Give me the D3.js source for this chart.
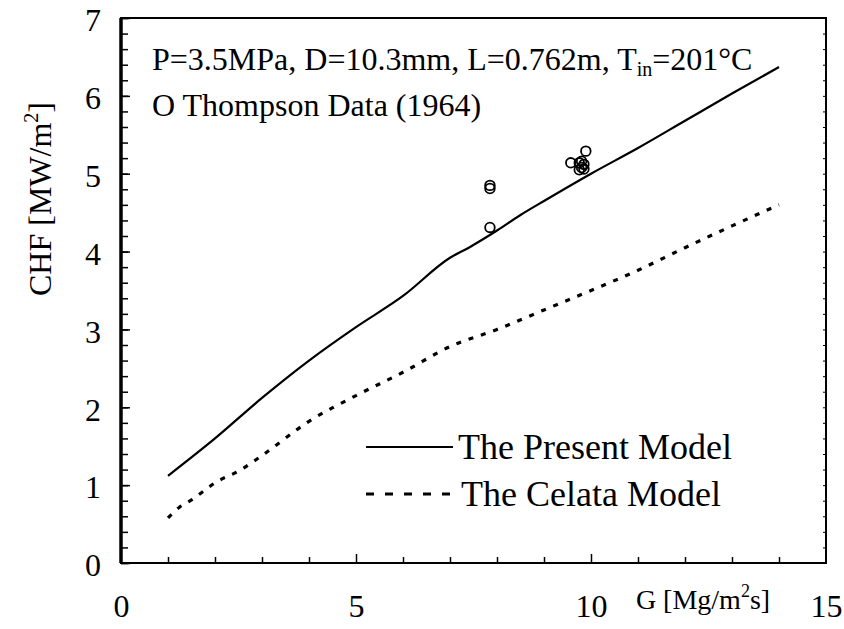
<!DOCTYPE html>
<html>
<head>
<meta charset="utf-8">
<script src="https://cdn.jsdelivr.net/npm/d3@7"></script>
<style>
  html, body { margin: 0; padding: 0; background: #fff; }
  svg { display: block; }
</style>
</head>
<body>
<svg id="chart" width="844" height="629" font-family="Liberation Serif, Times New Roman, serif"></svg>
<script>
// Mass flux G [Mg/m2s] and CHF [MW/m2] for the two model curves
const presentG   = [1, 2, 3, 4, 5, 6, 7, 7.4, 8, 8.5, 9, 10, 11, 12, 13, 14];
const presentCHF = [1.12, 1.6, 2.12, 2.6, 3.03, 3.43, 3.92, 4.05, 4.27, 4.47, 4.65, 5.0, 5.33, 5.68, 6.03, 6.37];

const celataG   = [1, 1.25, 1.5, 1.75, 2, 2.5, 3, 4, 5, 6, 7, 8, 9, 10, 11, 12, 13, 14];
const celataCHF = [0.58, 0.72, 0.81, 0.92, 1.03, 1.18, 1.38, 1.82, 2.15, 2.45, 2.78, 3.0, 3.25, 3.5, 3.76, 4.05, 4.33, 4.6];

// Thompson (1964) measurements
const dataG   = [7.85, 7.85, 7.85, 9.57, 9.89, 9.75, 9.8, 9.85, 9.75, 9.85, 9.8];
const dataCHF = [4.85, 4.81, 4.31, 5.14, 5.29, 5.14, 5.08, 5.12, 5.05, 5.06, 5.16];

const xTickLabels = [0, 5, 10, 15];
const yTickLabels = [0, 1, 2, 3, 4, 5, 6, 7];

const FONT = "Liberation Serif, Times New Roman, serif";
const svg = d3.select("#chart");
const plotL = 121, plotR = 826, plotT = 18, plotB = 563;

const x = d3.scaleLinear().domain([0, 15]).range([plotL, plotR]);
const y = d3.scaleLinear().domain([0, 7]).range([plotB, plotT]);

// Frame
svg.append("rect")
  .attr("x", plotL).attr("y", plotT)
  .attr("width", plotR - plotL).attr("height", plotB - plotT)
  .attr("fill", "none").attr("stroke", "#000").attr("stroke-width", 2);
svg.append("line")
  .attr("x1", plotL).attr("x2", plotL).attr("y1", plotT).attr("y2", plotB)
  .attr("stroke", "#000").attr("stroke-width", 3.5);

// Left axis: inward minor ticks every 0.2, labels at integers
const yMinor = d3.range(0, 7.001, 0.2).map(v => +v.toFixed(1));
const yAxisMinor = d3.axisLeft(y).tickValues(yMinor).tickSize(-7).tickFormat("");
svg.append("g").attr("transform", `translate(${plotL},0)`).call(yAxisMinor)
  .call(g => g.select(".domain").remove())
  .call(g => g.selectAll(".tick line").attr("stroke-width", 1.5));

// Right axis: short inward minor ticks
const yAxisRight = d3.axisRight(y).tickValues(yMinor).tickSize(-3).tickFormat("");
svg.append("g").attr("transform", `translate(${plotR},0)`).call(yAxisRight)
  .call(g => g.select(".domain").remove())
  .call(g => g.selectAll(".tick line").attr("stroke-width", 1));

const yAxis = d3.axisLeft(y).tickValues(yTickLabels).tickSize(-9).tickPadding(20)
  .tickFormat(d3.format("d"));
svg.append("g").attr("transform", `translate(${plotL},0)`).call(yAxis)
  .attr("font-family", FONT).attr("font-size", 32)
  .call(g => g.select(".domain").remove())
  .call(g => g.selectAll(".tick line").attr("stroke-width", 1.5))
  .call(g => g.selectAll(".tick text").attr("dy", "0.4em"));

// Bottom axis: inward ticks at every integer
const xMinor = d3.range(1, 15);
const xAxisMinor = d3.axisBottom(x).tickValues(xMinor)
  .tickSize(-6).tickFormat("");
svg.append("g").attr("transform", `translate(0,${plotB})`).call(xAxisMinor)
  .call(g => g.select(".domain").remove())
  .call(g => g.selectAll(".tick line")
    .attr("stroke-width", 1.5)
    .attr("y2", d => (d % 5 === 0 ? -9 : -6)));

const xAxis = d3.axisBottom(x).tickValues(xTickLabels).tickSize(0).tickPadding(31)
  .tickFormat(d3.format("d"));
svg.append("g").attr("transform", `translate(0,${plotB})`).call(xAxis)
  .attr("font-family", FONT).attr("font-size", 32)
  .call(g => g.select(".domain").remove());

// Axis titles
const xTitle = svg.append("text")
  .attr("x", 703).attr("y", 609)
  .attr("text-anchor", "middle").attr("font-size", 28).attr("font-family", FONT);
xTitle.append("tspan").text("G [Mg/m");
xTitle.append("tspan").attr("dy", -12).attr("font-size", 18).text("2");
xTitle.append("tspan").attr("dy", 12).text("s]");

const yTitle = svg.append("text")
  .attr("transform", "translate(51,199) rotate(-90)")
  .attr("text-anchor", "middle").attr("font-size", 32).attr("font-family", FONT);
yTitle.append("tspan").text("CHF [MW/m");
yTitle.append("tspan").attr("dy", -13).attr("font-size", 20).text("2");
yTitle.append("tspan").attr("dy", 13).text("]");

// Curves
const line = d3.line().x(d => x(d[0])).y(d => y(d[1])).curve(d3.curveMonotoneX);

svg.append("path")
  .datum(d3.zip(presentG, presentCHF))
  .attr("d", line)
  .attr("fill", "none").attr("stroke", "#000").attr("stroke-width", 2.2);

svg.append("path")
  .datum(d3.zip(celataG, celataCHF))
  .attr("d", line)
  .attr("fill", "none").attr("stroke", "#000").attr("stroke-width", 3.2)
  .attr("stroke-dasharray", "5,8");

// Measured points
svg.append("g").selectAll("circle")
  .data(d3.zip(dataG, dataCHF))
  .join("circle")
  .attr("cx", d => x(d[0])).attr("cy", d => y(d[1]))
  .attr("r", 4.8)
  .attr("fill", "none").attr("stroke", "#000").attr("stroke-width", 1.8);

// Condition and data annotations
const note = svg.append("text").attr("x", 152).attr("y", 70)
  .attr("font-size", 32).attr("font-family", FONT);
note.append("tspan").text("P=3.5MPa, D=10.3mm, L=0.762m, T");
note.append("tspan").attr("dy", 6).attr("font-size", 20).text("in");
note.append("tspan").attr("dy", -6).text("=201°C");

svg.append("text").attr("x", 152).attr("y", 116)
  .attr("font-size", 32).attr("font-family", FONT)
  .text("O Thompson Data (1964)");

// Legend
const legend = [
  { label: "The Present Model", dash: null, width: 2.2, yPos: 447, x2: 453 },
  { label: "The Celata Model", dash: "8,11", width: 3, yPos: 494, x2: 456 }
];
legend.forEach(item => {
  svg.append("line")
    .attr("x1", 366).attr("x2", item.x2)
    .attr("y1", item.yPos).attr("y2", item.yPos)
    .attr("stroke", "#000").attr("stroke-width", item.width)
    .attr("stroke-dasharray", item.dash);
  svg.append("text")
    .attr("x", item.x2 + 5).attr("y", item.yPos + 12)
    .attr("font-size", 36).attr("font-family", FONT)
    .text(item.label);
});
</script>
</body>
</html>
